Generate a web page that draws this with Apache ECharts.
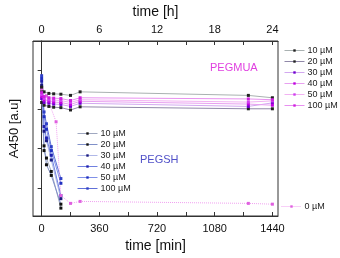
<!DOCTYPE html>
<html><head><meta charset="utf-8">
<script src="https://cdn.jsdelivr.net/npm/echarts@6/dist/echarts.min.js"></script>
<style>html,body{margin:0;padding:0;background:#fff}#c{width:340px;height:258px}</style>
</head><body><div id="c"></div>
<script>
// ---- data ----
const concLabels = ['10 µM', '20 µM', '30 µM', '40 µM', '50 µM', '100 µM'];
const timesMUA = [0, 15, 45, 75, 120, 180, 240, 1290, 1440];
const timesSH = [0, 15, 30, 60, 120];
const times0 = [0, 30, 90, 120, 180, 240, 1290, 1440];

const mua10 = [3.56, 3.44, 3.40, 3.39, 3.38, 3.35, 3.44, 3.35, 3.29];
const mua20 = [3.17, 3.10, 3.07, 3.05, 3.04, 2.98, 3.06, 3.01, 3.01];
const mua30 = [3.27, 3.17, 3.15, 3.13, 3.12, 3.07, 3.15, 3.07, 3.16];
const mua40 = [3.32, 3.23, 3.20, 3.18, 3.17, 3.12, 3.20, 3.13, 3.10];
const mua50 = [3.37, 3.27, 3.24, 3.23, 3.22, 3.17, 3.24, 3.18, 3.21];
const mua100 = [3.42, 3.32, 3.29, 3.28, 3.27, 3.22, 3.29, 3.26, 3.24];

const sh10 = [3.46, 1.95, 1.76, 1.42, 0.49];
const sh20 = [3.54, 2.07, 1.59, 1.32, 0.59];
const sh30 = [3.61, 2.44, 2.20, 1.71, 0.73];
const sh40 = [3.71, 2.56, 2.27, 1.83, 0.81];
const sh50 = [3.78, 2.81, 2.49, 1.95, 1.12];
const sh100 = [3.85, 2.93, 2.63, 2.05, 1.24];

const zero = [3.51, 3.34, 2.68, 0.81, 0.61, 0.66, 0.61, 0.59];

const xLabelValues = [0, 360, 720, 1080, 1440];
const xTickValues = [0, 180, 360, 540, 720, 900, 1080, 1260, 1440];
const yTickValues = [1, 2, 3, 4];

// ---- styles ----
const muaLine = ['#a9b1b1', '#9088a8', '#d2a8f0', '#e8a0f0', '#f2b2f2', '#e890f0'];
const muaDot = ['#222222', '#222222', '#7000d0', '#c000e0', '#d040f0', '#d020e0'];
const shLine = ['#a0a8c0', '#8090c8', '#b0b8e8', '#7080e0', '#8090e8', '#6070d8'];
const shDot = ['#111111', '#111111', '#1a1a80', '#2020b0', '#2030c0', '#3040c8'];

const FONT = 'Liberation Sans, Arial, sans-serif';
const muaData = [mua10, mua20, mua30, mua40, mua50, mua100];
const shData = [sh10, sh20, sh30, sh40, sh50, sh100];

const nameMap = {};
const series = [];
function mk(name, label, times, vals, lc, dc, dotted) {
  nameMap[name] = label;
  series.push({
    name: name, type: 'line', xAxisIndex: 0, yAxisIndex: 0,
    data: times.map((t, i) => [t, vals[i]]),
    symbol: 'rect', symbolSize: 3, showSymbol: true,
    lineStyle: { color: lc, width: 1, type: dotted ? 'dotted' : 'solid' },
    itemStyle: { color: dc },
    animation: false, z: 3
  });
}
shData.forEach((d, i) => mk('SH' + i, concLabels[i], timesSH, d, shLine[i], shDot[i]));
mk('Z0', '0 µM', times0, zero, '#f0a0f0', '#e060e0', true);
muaData.forEach((d, i) => mk('MUA' + i, concLabels[i], timesMUA, d, muaLine[i], muaDot[i]));

const legendCommon = {
  orient: 'vertical', itemWidth: 20, itemHeight: 3, itemGap: 0,
  lineStyle: { width: 1 },
  textStyle: { fontSize: 9, fontFamily: FONT, color: '#222', lineHeight: 11, padding: [0, 0, 0, -2] },
  formatter: n => nameMap[n], padding: 0, selectedMode: false
};

const chart = echarts.init(document.getElementById('c'), null, { renderer: 'canvas' });
chart.setOption({
  animation: false,
  grid: { left: 32, right: 62, top: 36, bottom: 40, show: true, borderColor: '#333', borderWidth: 1 },
  xAxis: [{
    type: 'value', position: 'bottom', min: -54, max: 1475,
    name: 'time [min]', nameLocation: 'middle', nameGap: 23,
    nameTextStyle: { fontSize: 14, fontFamily: FONT, color: '#111' },
    axisLine: { show: true, lineStyle: { color: '#333' } },
    axisTick: { show: true, inside: true, length: 4, customValues: xTickValues, lineStyle: { color: '#333' } },
    axisLabel: { customValues: xLabelValues, formatter: v => String(v), fontSize: 11, fontFamily: FONT, color: '#111', margin: 7 },
    splitLine: { show: false }
  }, {
    type: 'value', position: 'top', min: -54, max: 1475,
    name: 'time [h]', nameLocation: 'middle', nameGap: 22,
    nameTextStyle: { fontSize: 14, fontFamily: FONT, color: '#111' },
    axisLine: { show: true, lineStyle: { color: '#333' } },
    axisTick: { show: true, inside: true, length: 4, customValues: xTickValues, lineStyle: { color: '#333' } },
    axisLabel: { customValues: xLabelValues, formatter: v => String(v / 60), fontSize: 11, fontFamily: FONT, color: '#111', margin: 6 },
    splitLine: { show: false }
  }],
  yAxis: [{
    type: 'value', min: 0.29, max: 4.73,
    name: 'A450 [a.u]', nameLocation: 'middle', nameGap: 12,
    nameTextStyle: { fontSize: 13, fontFamily: FONT, color: '#111' },
    axisLine: { show: true, lineStyle: { color: '#333' } },
    axisTick: { show: true, inside: false, length: 4, customValues: yTickValues, lineStyle: { color: '#333' } },
    axisLabel: { show: false },
    splitLine: { show: false }
  }],
  legend: [
    Object.assign({}, legendCommon, { left: 284, top: 45, data: ['MUA0', 'MUA1', 'MUA2', 'MUA3', 'MUA4', 'MUA5'] }),
    Object.assign({}, legendCommon, { left: 77, top: 128, data: ['SH0', 'SH1', 'SH2', 'SH3', 'SH4', 'SH5'] }),
    Object.assign({}, legendCommon, { left: 281, top: 201, data: ['Z0'] })
  ],
  graphic: [
    { type: 'text', left: 210, top: 62, style: { text: 'PEGMUA', fontSize: 11, fontFamily: FONT, fill: '#e040e0' } },
    { type: 'text', left: 140, top: 154, style: { text: 'PEGSH', fontSize: 11, fontFamily: FONT, fill: '#5050c8' } }
  ],
  series: series
});
</script></body></html>
